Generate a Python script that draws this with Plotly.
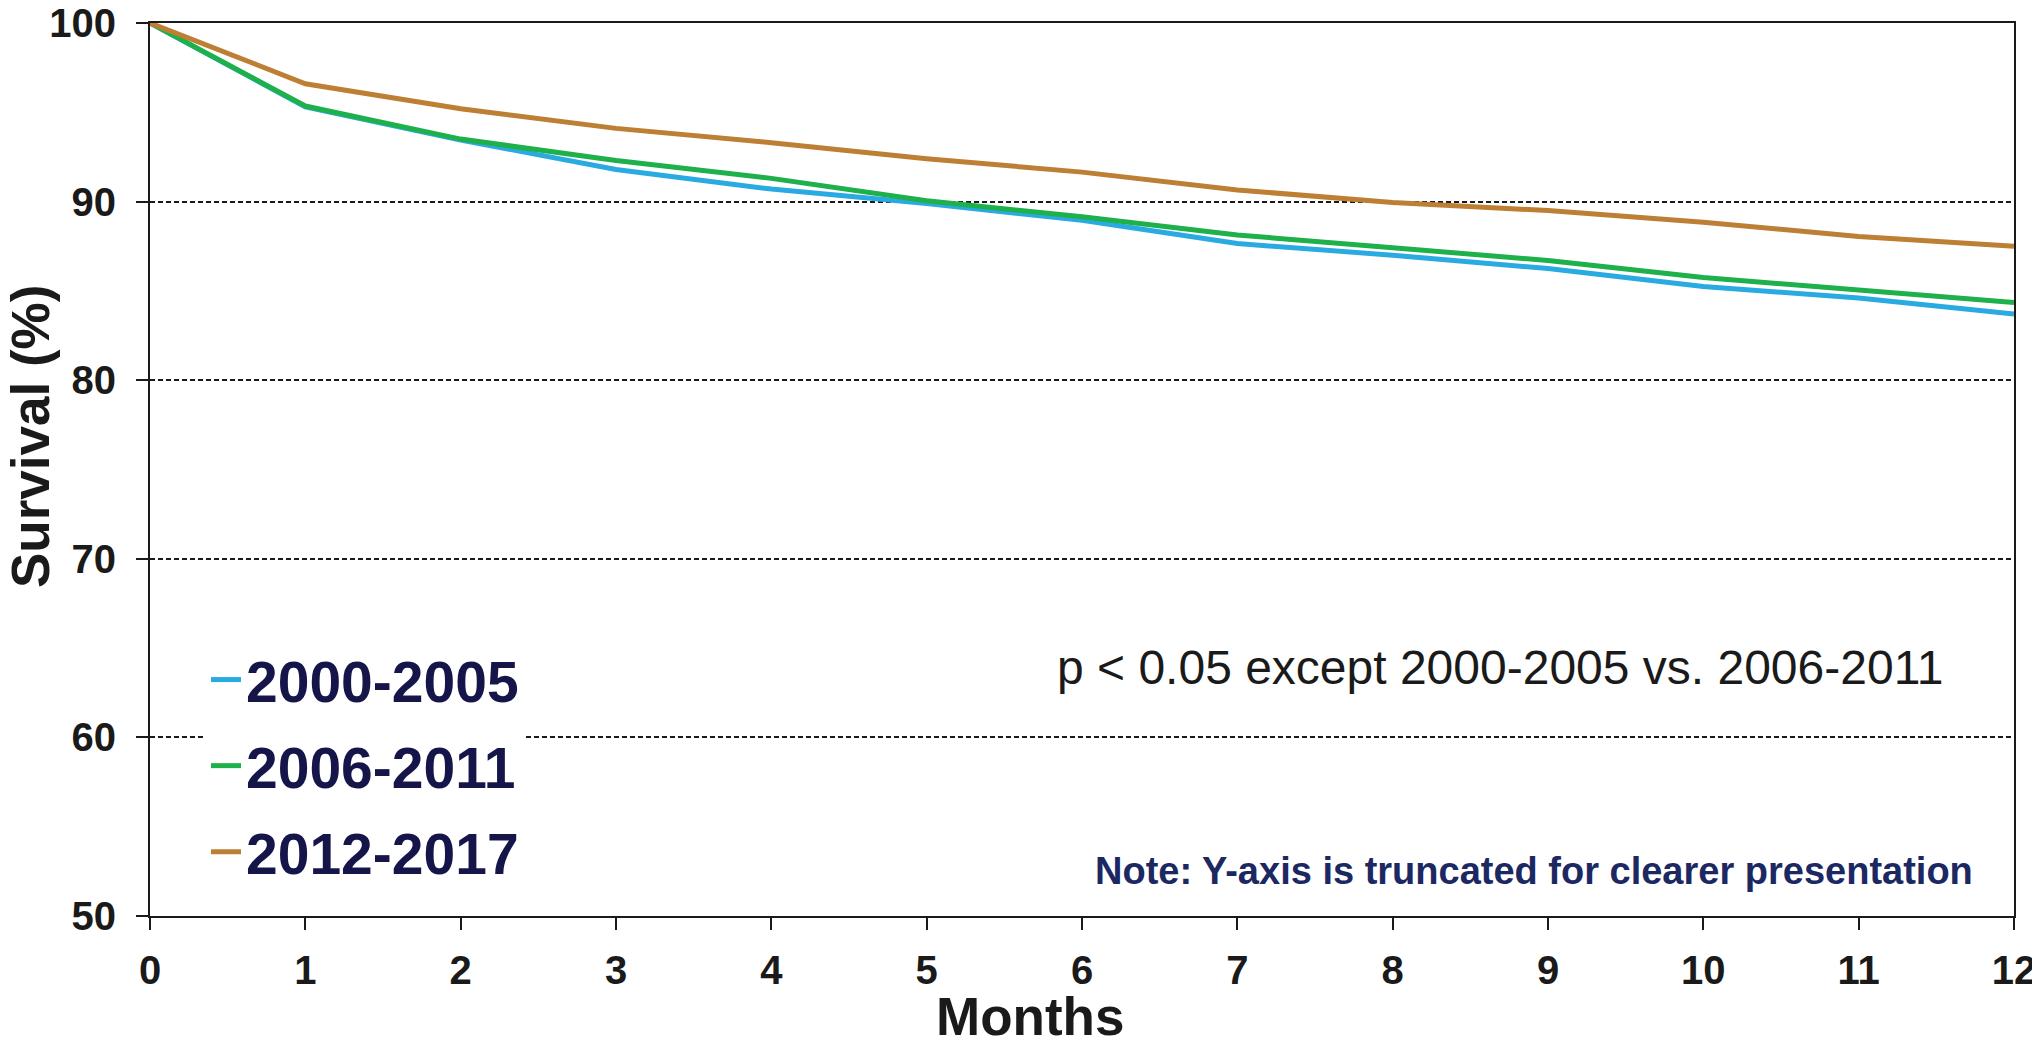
import plotly.graph_objects as go

months = [0, 1, 2, 3, 4, 5, 6, 7, 8, 9, 10, 11, 12]
series_names = ["2000-2005", "2006-2011", "2012-2017"]
surv_2000_2005 = [100, 95.3, 93.45, 91.8, 90.7, 89.9, 88.95, 87.65, 87.0, 86.25, 85.25, 84.6, 83.7]
surv_2006_2011 = [100, 95.35, 93.5, 92.3, 91.3, 90.05, 89.15, 88.13, 87.42, 86.7, 85.75, 85.05, 84.35]
surv_2012_2017 = [100, 96.6, 95.2, 94.1, 93.3, 92.4, 91.65, 90.65, 89.95, 89.5, 88.85, 88.05, 87.5]
colors = ["#29ABE2", "#1DB04B", "#BD7F33"]
y_ticks = [50, 60, 70, 80, 90, 100]
x_ticks = months

# page body has an 8px margin; compensate so the plot lands where the reference has it
OFF = 8
W, H = 2040 - OFF, 1045 - OFF
L, R, T, B = 150 - OFF, 26, 23 - OFF, 129
PW, PH = W - L - R, H - T - B

def px(x):
    return (x - OFF - L) / PW

def py(y):
    return (H - B - (y - OFF)) / PH

FONT = "Arial, Liberation Sans, Helvetica, sans-serif"

fig = go.Figure()
for i, (name, vals) in enumerate(zip(series_names, [surv_2000_2005, surv_2006_2011, surv_2012_2017])):
    fig.add_trace(go.Scatter(
        x=months, y=vals, mode="lines", name=name,
        line=dict(color=colors[i], width=5),
        legendgroup=name,
    ))

fig.update_layout(
    width=W, height=H,
    margin=dict(l=L, r=R, t=T, b=B, autoexpand=False),
    paper_bgcolor="white", plot_bgcolor="white",
    font=dict(family=FONT, color="#1a1a1a"),
    showlegend=True,
    legend=dict(
        x=px(206), y=py(636), xanchor="left", yanchor="top",
        bgcolor="white", borderwidth=0,
        font=dict(family=FONT, size=57, color="#15154A", weight="bold"),
        tracegroupgap=9, traceorder="grouped",
    ),
)

fig.update_xaxes(
    range=[0, 12], tickvals=x_ticks, ticktext=[str(v) for v in x_ticks],
    showgrid=False, zeroline=False,
    showline=True, linecolor="#1a1a1a", linewidth=2, mirror=True,
    ticks="outside", ticklen=12, tickwidth=2, tickcolor="#1a1a1a",
    tickfont=dict(family=FONT, size=40, color="#1a1a1a", weight="bold"),
    ticklabelstandoff=6, ticklabeloverflow="allow",
)
fig.update_yaxes(
    range=[50, 100], tickvals=y_ticks, ticktext=[str(v) for v in y_ticks],
    showgrid=True, gridcolor="#1a1a1a", gridwidth=1.5, griddash="5px,3px",
    zeroline=False,
    showline=True, linecolor="#1a1a1a", linewidth=2, mirror=True,
    ticks="outside", ticklen=12, tickwidth=2, tickcolor="#1a1a1a",
    tickfont=dict(family=FONT, size=40, color="#1a1a1a", weight="bold"),
    ticklabelstandoff=12, ticklabeloverflow="allow",
)

fig.add_annotation(
    text="Survival (%)", xref="paper", yref="paper",
    x=px(30), y=py(437), xanchor="center", yanchor="middle",
    textangle=-90, showarrow=False,
    font=dict(family=FONT, size=53, color="#1a1a1a", weight="bold"),
)
fig.add_annotation(
    text="Months", xref="paper", yref="paper",
    x=px(1030), y=py(1017), xanchor="center", yanchor="middle",
    showarrow=False,
    font=dict(family=FONT, size=53, color="#1a1a1a", weight="bold"),
)
fig.add_annotation(
    text="p < 0.05 except 2000-2005 vs. 2006-2011", xref="paper", yref="paper",
    x=px(1945), y=py(667), xanchor="right", yanchor="middle",
    showarrow=False,
    font=dict(family=FONT, size=48, color="#1a1a1a"),
)
fig.add_annotation(
    text="Note: Y-axis is truncated for clearer presentation", xref="paper", yref="paper",
    x=px(1975), y=py(871), xanchor="right", yanchor="middle",
    showarrow=False,
    font=dict(family=FONT, size=38, color="#1C2862", weight="bold"),
)

fig.write_html("out.html")
